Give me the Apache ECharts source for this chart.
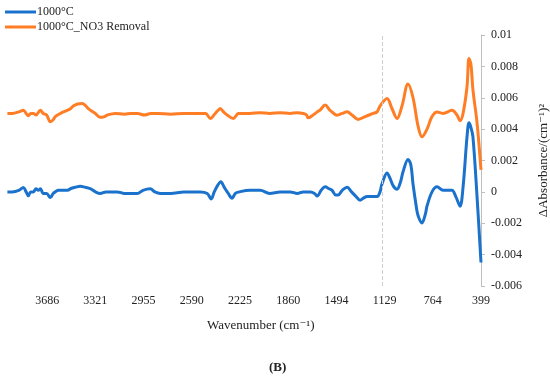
<!DOCTYPE html>
<html>
<head>
<meta charset="utf-8">
<script src="https://cdn.jsdelivr.net/npm/echarts@6/dist/echarts.min.js"></script>
<style>html,body{margin:0;padding:0;background:#fff}#c{width:550px;height:378px}</style>
</head>
<body>
<div id="c"></div>
<script>
var seriesNames = ['1000°C', '1000°C_NO3 Removal'];
var xTickLabels = [3686, 3321, 2955, 2590, 2225, 1860, 1494, 1129, 764, 399];
var yTicks = [-0.006, -0.004, -0.002, 0, 0.002, 0.004, 0.006, 0.008, 0.01];
var markerWavenumber = [1150];

var blueWn = [3987,3950,3900,3866,3845,3828,3810,3790,3770,3753,3737,3715,3690,3662,3640,3624,3600,3563,3530,3510,3470,3435,3400,3359,3320,3283,3240,3200,3155,3100,3003,2960,2905,2870,2829,2750,2650,2526,2473,2443,2420,2395,2370,2345,2314,2285,2260,2230,2150,2072,2000,1921,1845,1790,1746,1690,1660,1640,1610,1580,1550,1527,1500,1482,1450,1413,1380,1345,1315,1290,1262,1217,1186,1164,1148,1111,1090,1065,1035,1010,989,952,930,914,890,876,846,820,808,770,732,687,650,619,590,558,535,505,490,475,460,429,399];
var blueVal = [0,0,0.0001,0.00028,0,-0.00025,0,0,0.0002,0.0001,0.0002,-0.0001,-0.0001,-0.00036,-0.0001,0,0.0001,0.0001,0.0001,0.0002,0.0003,0.00036,0.0003,0.0002,0,-0.0001,0,0,0,-0.0001,-0.0001,0.0001,0.0002,0,-0.0001,-0.0001,0,0,-0.0001,-0.00045,0,0.0004,0.00065,0.0003,-0.0001,-0.0004,-0.0001,0,0.0001,0.0001,-0.0001,0,0,-0.0001,0,0,-0.0001,-0.00027,0.0001,0.00032,0.0002,0.0001,-0.0002,-0.0002,0.0001,0.0003,0,-0.0003,-0.00053,-0.0004,-0.0003,-0.0003,-0.0003,0,0.00053,0.00121,0.0009,0.0004,0.00017,0.0006,0.0013,0.00207,0.0017,0.0005,-0.0009,-0.0015,-0.00198,-0.0014,-0.0009,0,0.00032,0.0001,0.0001,0.0001,-0.0003,-0.00091,0.0003,0.0035,0.0044,0.0041,0.0035,-0.0003,-0.0045];

var orangeWn = [3987,3950,3900,3866,3845,3828,3810,3790,3770,3737,3715,3690,3662,3640,3624,3586,3563,3533,3510,3488,3455,3420,3395,3374,3340,3321,3283,3250,3230,3170,3100,3050,3000,2950,2900,2850,2750,2650,2526,2485,2450,2413,2390,2375,2350,2322,2276,2250,2239,2150,2072,2000,1921,1845,1790,1746,1720,1709,1671,1640,1618,1580,1542,1489,1451,1413,1376,1330,1277,1217,1186,1164,1111,1073,1035,997,952,914,876,846,808,770,732,687,619,581,558,535,505,490,475,460,429,399];
var orangeVal = [0.005,0.005,0.0051,0.0052,0.005,0.00485,0.005,0.005,0.0049,0.0052,0.005,0.0049,0.00447,0.0046,0.0048,0.005,0.0051,0.0052,0.0053,0.00547,0.0056,0.00564,0.0055,0.0053,0.0051,0.005,0.00475,0.0048,0.0049,0.005,0.00495,0.005,0.005,0.0049,0.005,0.005,0.00495,0.005,0.005,0.005,0.00468,0.005,0.0052,0.00532,0.0051,0.0049,0.00468,0.0049,0.005,0.005,0.00505,0.005,0.00505,0.005,0.00505,0.005,0.0049,0.00472,0.0049,0.0051,0.00521,0.00553,0.0052,0.00489,0.005,0.0051,0.0049,0.00462,0.0048,0.005,0.0051,0.00547,0.00596,0.0053,0.00468,0.0055,0.00687,0.006,0.0042,0.00351,0.004,0.0048,0.00509,0.005,0.0052,0.0049,0.00453,0.005,0.0067,0.0085,0.0081,0.0065,0.0044,0.0014];

function pairs(xs, ys) { return xs.map(function (x, i) { return [x, ys[i]]; }); }

var font = 'Liberation Serif, DejaVu Serif, serif';
var chart = echarts.init(document.getElementById('c'), null, {renderer: 'canvas'});
chart.setOption({
  animation: false,
  backgroundColor: '#fff',
  textStyle: {fontFamily: font},
  legend: {
    orient: 'vertical', left: 0, top: 1, itemGap: 3,
    icon: 'rect', itemWidth: 31, itemHeight: 3,
    textStyle: {fontFamily: font, fontSize: 12, color: '#222', padding: [0, 0, 0, -4]},
    data: seriesNames
  },
  grid: {left: 7, right: 69, top: 35, bottom: 92, containLabel: false, outerBoundsMode: 'none'},
  xAxis: {
    type: 'value', inverse: true, min: 399, max: 3990,
    axisLine: {show: false}, axisTick: {show: false}, splitLine: {show: false},
    axisLabel: {customValues: xTickLabels, fontFamily: font, fontSize: 12, color: '#222', margin: 9,
      formatter: function (v) { return String(Math.round(v)); }}
  },
  yAxis: {
    type: 'value', position: 'right', min: -0.006, max: 0.01, interval: 0.002,
    axisLine: {show: true, lineStyle: {color: '#bfbfbf'}},
    axisTick: {show: true, inside: false, length: 4, lineStyle: {color: '#bfbfbf'}},
    splitLine: {show: false},
    axisLabel: {fontFamily: font, fontSize: 12, color: '#222', margin: 10},
    name: 'ΔAbsorbance/(cm⁻¹)²', nameLocation: 'middle', nameRotate: 90, nameGap: 56,
    nameTextStyle: {fontFamily: font, fontSize: 13, color: '#222'}
  },
  series: [
    {
      name: seriesNames[0], type: 'line', data: pairs(blueWn, blueVal),
      smooth: 0.35, showSymbol: false, symbol: 'none',
      lineStyle: {color: '#1a72cc', width: 3}, itemStyle: {color: '#1a72cc'},
      z: 3,
      markLine: {
        silent: true, symbol: 'none', label: {show: false},
        lineStyle: {color: '#cfcfcf', type: 'dashed', width: 1},
        data: [{xAxis: markerWavenumber[0]}]
      }
    },
    {
      name: seriesNames[1], type: 'line', data: pairs(orangeWn, orangeVal),
      smooth: 0.35, showSymbol: false, symbol: 'none',
      lineStyle: {color: '#ff7d24', width: 3}, itemStyle: {color: '#ff7d24'},
      z: 2
    }
  ],
  graphic: [
    {type: 'text', left: 207, top: 319, style: {text: 'Wavenumber (cm⁻¹)', font: '13px ' + font, fill: '#222'}},
    {type: 'text', left: 269, top: 361, style: {text: '(B)', font: 'bold 13px ' + font, fill: '#222'}}
  ]
});
</script>
</body>
</html>
